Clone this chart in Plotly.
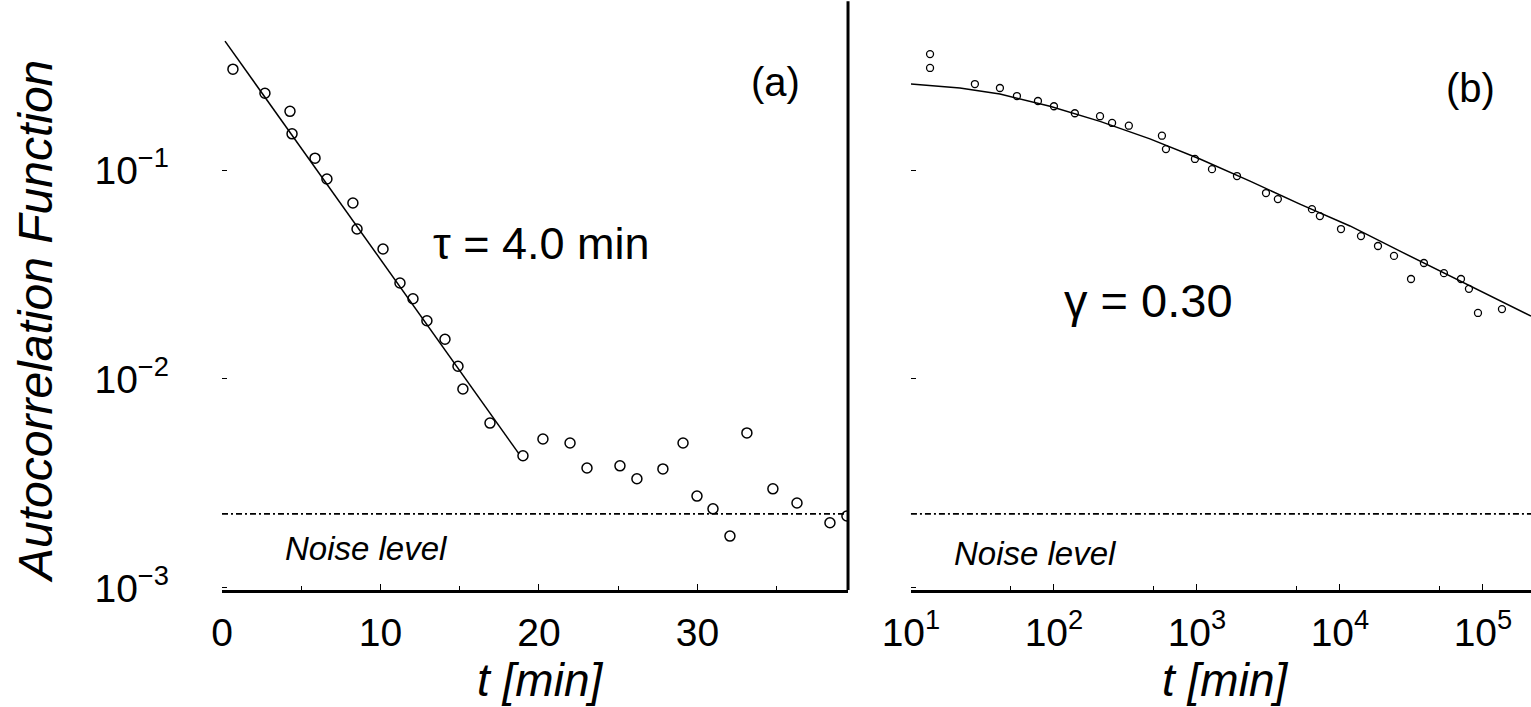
import plotly.graph_objects as go

# ---------------- data ----------------
# Panel (a): semilog, t in minutes
ta = [0.69, 2.71, 4.29, 4.42, 5.87, 6.62, 8.26, 8.52, 10.16, 11.23, 12.05, 12.93,
      14.07, 14.89, 15.2, 16.91, 18.99, 20.25, 21.96, 23.03, 25.11, 26.18, 27.82,
      29.09, 29.97, 30.98, 32.05, 33.12, 34.76, 36.28, 38.36, 39.43]
ya = [0.304, 0.233, 0.191, 0.149, 0.114, 0.0906, 0.0695, 0.0522, 0.0419, 0.0288,
      0.0242, 0.0190, 0.0155, 0.0115, 0.00895, 0.00615, 0.00429, 0.00516, 0.00494,
      0.00375, 0.00384, 0.00333, 0.00371, 0.00494, 0.00275, 0.00239, 0.00177,
      0.00552, 0.00298, 0.00255, 0.00205, 0.00221]
fit_a_t = [0.19, 18.74]
fit_a_y = [0.414, 0.00438]

# Panel (b): log-log
tb = [13.6, 13.6, 28.0, 41.9, 55.1, 77.3, 100, 140, 210, 255, 334, 569, 607, 968,
      1274, 1905, 3040, 3680, 6370, 7240, 10170, 14030, 18450, 23880, 31400, 38650,
      53350, 70200, 79800, 92300, 135800]
yb = [0.359, 0.308, 0.258, 0.247, 0.226, 0.214, 0.202, 0.187, 0.181, 0.168, 0.163,
      0.146, 0.126, 0.113, 0.101, 0.0936, 0.0776, 0.0726, 0.0650, 0.0602, 0.0522,
      0.0483, 0.0433, 0.0388, 0.0301, 0.0359, 0.0321, 0.0301, 0.0270, 0.0207, 0.0216]
fit_b_t = [10, 22, 41.9, 93.8, 210, 469, 1050, 2350, 5250, 11750, 26300, 58900, 216800]
fit_b_y = [0.258, 0.247, 0.231, 0.202, 0.171, 0.141, 0.113, 0.0885, 0.0687, 0.0540,
           0.0409, 0.0311, 0.0200]

noise_level = 0.00226

xa_ticks = [0, 10, 20, 30]
xa_ticktext = ["0", "10", "20", "30"]
xb_ticks = [1e1, 1e2, 1e3, 1e4, 1e5]
xb_ticktext = ["10<sup>1</sup>", "10<sup>2</sup>", "10<sup>3</sup>", "10<sup>4</sup>", "10<sup>5</sup>"]
xb_minor = [50, 500, 5000, 50000]
y_ticks = [1e-3, 1e-2, 1e-1]
y_ticktext = ["10<sup>−3</sup>", "10<sup>−2</sup>", "10<sup>−1</sup>"]

# ---------------- figure ----------------
FONT = "Liberation Sans, Arial, sans-serif"
fig = go.Figure()

fig.add_trace(go.Scatter(x=ta, y=ya, mode="markers", xaxis="x", yaxis="y",
                         marker=dict(symbol="circle-open", size=10, color="black",
                                     line=dict(width=1.5, color="black"))))
fig.add_trace(go.Scatter(x=fit_a_t, y=fit_a_y, mode="lines", xaxis="x", yaxis="y",
                         line=dict(color="black", width=1.5)))
fig.add_trace(go.Scatter(x=tb, y=yb, mode="markers", xaxis="x2", yaxis="y2",
                         marker=dict(symbol="circle-open", size=7, color="black",
                                     line=dict(width=1.3, color="black"))))
fig.add_trace(go.Scatter(x=fit_b_t, y=fit_b_y, mode="lines", xaxis="x2", yaxis="y2",
                         line=dict(color="black", width=1.5)))

YDOM = [0.1655, 0.990]
YRANGE = [-3.01, -0.22]
tickfont = dict(family=FONT, size=39, color="black")

fig.update_layout(
    template="none",
    width=1531, height=707,
    autosize=False,
    margin=dict(l=0, r=0, t=0, b=0, pad=0, autoexpand=False),
    paper_bgcolor="white", plot_bgcolor="white",
    showlegend=False,
    font=dict(family=FONT, color="black"),
    xaxis=dict(domain=[0.1450, 0.5539], range=[0, 39.5], anchor="y", automargin=False,
               tickvals=xa_ticks, ticktext=xa_ticktext, ticks="inside", ticklen=6,
               tickcolor="black", showline=True, linewidth=3, linecolor="black",
               showgrid=False, zeroline=False, tickfont=tickfont, ticklabelstandoff=6,
               minor=dict(dtick=5, tick0=0, ticks="inside", ticklen=4, tickcolor="black",
                          showgrid=False)),
    yaxis=dict(domain=YDOM, type="log", range=YRANGE, anchor="x", automargin=False,
               tickvals=y_ticks, ticktext=y_ticktext, ticks="inside", ticklen=5,
               tickcolor="black", showline=False, showgrid=False, zeroline=False,
               tickfont=tickfont, ticklabelstandoff=52),
    xaxis2=dict(domain=[0.5950, 1.0], type="log", range=[1, 5.336], anchor="y2",
                automargin=False,
                tickvals=xb_ticks, ticktext=xb_ticktext, ticks="inside", ticklen=6,
                tickcolor="black", showline=True, linewidth=3, linecolor="black",
                showgrid=False, zeroline=False, tickfont=tickfont, ticklabelstandoff=6,
                minor=dict(tickmode="array", tickvals=xb_minor, ticks="inside", ticklen=4,
                           tickcolor="black", showgrid=False)),
    yaxis2=dict(domain=YDOM, type="log", range=YRANGE, anchor="x2", automargin=False,
                tickvals=y_ticks, ticks="inside", ticklen=5, tickcolor="black",
                showticklabels=False, showline=False, showgrid=False, zeroline=False),
)

# noise level lines and the right frame of panel (a)
for xr, yr in (("x domain", "y"), ("x2 domain", "y2")):
    fig.add_shape(type="line", xref=xr, yref=yr, x0=0, x1=1, y0=noise_level, y1=noise_level,
                  line=dict(color="black", width=1.8, dash="6px,3px,2px,3px"))
fig.add_shape(type="line", xref="x domain", yref="y domain", x0=1, x1=1, y0=0, y1=1.01,
              line=dict(color="black", width=3))

def ann(text, x, y, size, italic=False, angle=0):
    fig.add_annotation(text=f"<i>{text}</i>" if italic else text, x=x, y=y,
                       xref="paper", yref="paper", showarrow=False, textangle=angle,
                       font=dict(family=FONT, size=size, color="black"),
                       xanchor="center", yanchor="middle")

ann("(a)", 775 / 1531, 1 - 82 / 707, 40)
ann("(b)", 1470 / 1531, 1 - 88 / 707, 40)
ann("τ = 4.0 min", 541 / 1531, 1 - 243 / 707, 45)
ann("γ = 0.30", 1148 / 1531, 1 - 300 / 707, 47)
ann("Noise level", 366 / 1531, 1 - 548 / 707, 33, italic=True)
ann("Noise level", 1035 / 1531, 1 - 553 / 707, 33, italic=True)
ann("Autocorrelation Function", 35 / 1531, 1 - 322 / 707, 48, italic=True, angle=-90)
ann("t [min]", 540 / 1531, 1 - 680 / 707, 46, italic=True)
ann("t [min]", 1225 / 1531, 1 - 680 / 707, 46, italic=True)

fig.write_html("out.html", config={"displayModeBar": False},
               post_script="document.body.style.margin='0';document.body.style.overflow='hidden';")
